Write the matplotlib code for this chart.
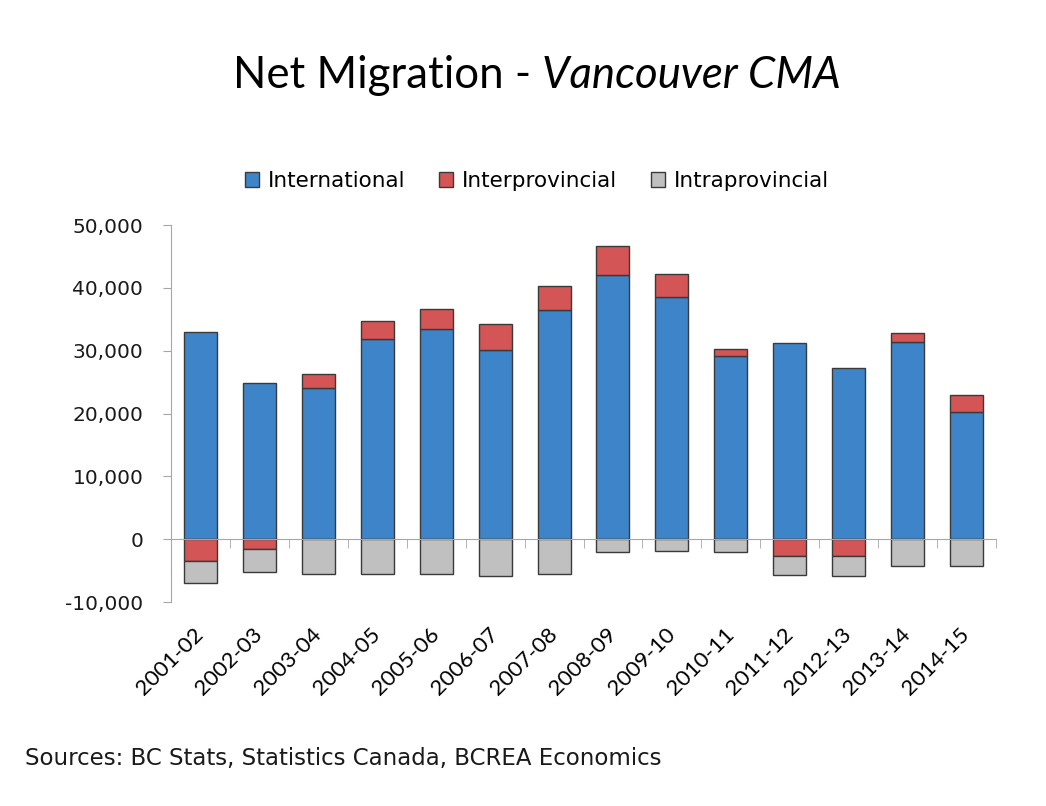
import numpy as np
import matplotlib.pyplot as plt
from matplotlib.patches import Patch
from matplotlib.ticker import FuncFormatter

years = ["2001-02", "2002-03", "2003-04", "2004-05", "2005-06", "2006-07", "2007-08",
         "2008-09", "2009-10", "2010-11", "2011-12", "2012-13", "2013-14", "2014-15"]
international = [32900, 24800, 24000, 31800, 33400, 30100, 36400,
                 42000, 38600, 29200, 31300, 27300, 31400, 20200]
interprovincial = [-3500, -1600, 2300, 3000, 3200, 4100, 3900,
                   4600, 3600, 1100, -2600, -2600, 1400, 2700]
intraprovincial = [-3500, -3600, -5600, -5600, -5600, -5900, -5600,
                   -2100, -1900, -2100, -3100, -3300, -4300, -4300]

BLUE = "#3d85c8"
RED = "#d45555"
GRAY = "#c0c0c0"
EDGE = "#3a3a3a"
AXIS = "#a6a6a6"


def plot_migration():
    intl = np.array(international)
    inter = np.array(interprovincial)
    intra = np.array(intraprovincial)
    x = np.arange(len(years))

    fig = plt.figure(figsize=(10.46, 8.06), dpi=100)
    ax = fig.add_axes([0.1635, 0.2531, 0.7887, 0.4677])

    w = 0.56
    ax.bar(x, intl, w, color=BLUE, edgecolor=EDGE, linewidth=1, zorder=3)
    inter_bottom = np.where(inter > 0, intl, 0)
    ax.bar(x, inter, w, bottom=inter_bottom, color=RED, edgecolor=EDGE, linewidth=1, zorder=3)
    intra_bottom = np.minimum(inter, 0)
    ax.bar(x, intra, w, bottom=intra_bottom, color=GRAY, edgecolor=EDGE, linewidth=1, zorder=3)

    ax.set_xlim(-0.5, len(years) - 0.5)
    ax.set_ylim(-10000, 50000)
    ax.set_yticks(range(-10000, 50001, 10000))
    ax.yaxis.set_major_formatter(FuncFormatter(lambda v, p: f"{int(v):,}"))

    for s in ["top", "right"]:
        ax.spines[s].set_visible(False)
    ax.spines["left"].set_color(AXIS)
    ax.spines["bottom"].set_color(AXIS)
    ax.spines["bottom"].set_position(("data", 0))
    ax.spines["bottom"].set_zorder(4)

    ax.tick_params(axis="y", direction="out", length=6, color=AXIS, pad=14,
                   labelsize=14.5, labelcolor="#1a1a1a")
    ax.set_xticks(x)
    ax.set_xticks(np.arange(-0.5, len(years), 1), minor=True)
    ax.tick_params(axis="x", which="major", length=0, pad=66)
    ax.tick_params(axis="x", which="minor", direction="out", length=6.5, color=AXIS)
    ax.set_xticklabels(years, rotation=45, ha="right", va="center",
                       rotation_mode="anchor", fontsize=16, family="Lato")

    ty = 1 - 76 / 806
    fig.text(542 / 1046, ty, "Net Migration - ", fontsize=31.5, family="Lato",
             ha="right", va="center")
    fig.text(542 / 1046, ty, "Vancouver CMA", fontsize=31.5, family="Lato",
             style="italic", ha="left", va="center")

    handles = [Patch(facecolor=BLUE, edgecolor=EDGE, label="International"),
               Patch(facecolor=RED, edgecolor=EDGE, label="Interprovincial"),
               Patch(facecolor=GRAY, edgecolor=EDGE, label="Intraprovincial")]
    fig.legend(handles=handles, loc="center", bbox_to_anchor=(537 / 1046, 1 - 181 / 806),
               ncol=3, frameon=False, fontsize=15.5, handlelength=0.65, handleheight=0.65,
               handletextpad=0.4, columnspacing=1.6)

    fig.text(25 / 1046, 1 - 759 / 806, "Sources: BC Stats, Statistics Canada, BCREA Economics",
             fontsize=16.5, ha="left", va="center", color="#1a1a1a")

    fig.savefig("out.png", dpi=100)


if __name__ == "__main__":
    plot_migration()
